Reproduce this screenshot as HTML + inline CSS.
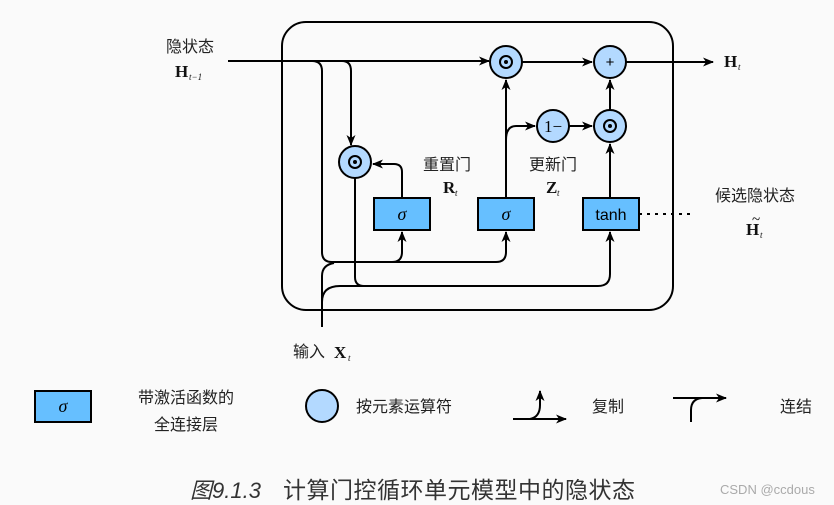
<!DOCTYPE html>
<html><head><meta charset="utf-8"><style>
body{margin:0;background:#fafafa;}
svg{display:block}
.cn{font-family:"Liberation Sans","Noto Sans CJK SC",sans-serif;font-size:16px;fill:#222}
.m{font-family:"Liberation Serif",serif;font-weight:bold;font-size:17px;fill:#111}
.s{font-family:"Liberation Serif",serif;font-style:italic;font-size:9px;fill:#111}
</style></head><body>
<svg width="834" height="505" viewBox="0 0 834 505" xmlns="http://www.w3.org/2000/svg">
<defs><marker id="a" markerWidth="11" markerHeight="9" refX="10" refY="4.5" orient="auto" markerUnits="userSpaceOnUse"><path d="M0,0 L11,4.5 L0,9 L3,4.5 Z" fill="#000"/></marker></defs>
<rect width="834" height="505" fill="#fafafa"/>
<rect x="282" y="22" width="391" height="288" rx="24" fill="none" stroke="#000" stroke-width="2"/>
<g fill="none" stroke="#000" stroke-width="2">
<path d="M228 61 H489" marker-end="url(#a)"/>
<path d="M312 61 Q322 61 322 71 V252 Q322 262 332 262 H392 Q402 262 402 252 V232" marker-end="url(#a)"/>
<path d="M392 262 H496 Q506 262 506 252 V232" marker-end="url(#a)"/>
<path d="M342 61 Q351 61 351 71 V145" marker-end="url(#a)"/>
<path d="M355 178 V277 Q355 286 364 286 H598 Q610 286 610 274 V232" marker-end="url(#a)"/>
<path d="M322 327 V276 Q322 265 334 263"/>
<path d="M322 327 V302 Q322 286 340 286 H364"/>
<path d="M402 198 V172 Q402 164 394 164 H373" marker-end="url(#a)"/>
<path d="M506 198 V80" marker-end="url(#a)"/>
<path d="M506 140 Q506 126 516 126 H535" marker-end="url(#a)"/>
<path d="M569 126 H592" marker-end="url(#a)"/>
<path d="M610 198 V144" marker-end="url(#a)"/>
<path d="M610 110 V80" marker-end="url(#a)"/>
<path d="M522 62 H592" marker-end="url(#a)"/>
<path d="M626 62 H713" marker-end="url(#a)"/>
<path d="M639 214 H691" stroke-dasharray="3,5"/>
</g>
<g stroke="#000" stroke-width="2" fill="#b3d9ff">
<circle cx="506" cy="62" r="16"/><circle cx="610" cy="62" r="16"/><circle cx="553" cy="126" r="16"/><circle cx="610" cy="126" r="16"/><circle cx="355" cy="162" r="16"/>
</g>
<g fill="none" stroke="#000" stroke-width="2"><circle cx="506" cy="62" r="6"/><circle cx="610" cy="126" r="6"/><circle cx="355" cy="162" r="6"/></g>
<g fill="#000"><circle cx="506" cy="62" r="2"/><circle cx="610" cy="126" r="2"/><circle cx="355" cy="162" r="2"/></g>
<text x="610" y="67" text-anchor="middle" font-family="Liberation Sans" font-size="15">+</text>
<text x="553" y="132" text-anchor="middle" font-family="Liberation Serif" font-size="17">1−</text>
<g stroke="#000" stroke-width="2" fill="#66bfff">
<rect x="374" y="198" width="56" height="32"/><rect x="478" y="198" width="56" height="32"/><rect x="583" y="198" width="56" height="32"/>
<rect x="35" y="391" width="56" height="31"/>
</g>
<g font-family="Liberation Serif" font-style="italic" font-size="18" text-anchor="middle"><text x="402" y="220">σ</text><text x="506" y="220">σ</text><text x="63" y="412">σ</text></g>
<text x="611" y="220" text-anchor="middle" font-family="Liberation Sans" font-size="16">tanh</text>
<text class="cn" x="190" y="52" text-anchor="middle">隐状态</text>
<text class="m" x="175" y="77">H</text><text class="s" x="189" y="80">t−1</text>
<text class="cn" x="447" y="170" text-anchor="middle">重置门</text>
<text class="m" x="443" y="193">R</text><text class="s" x="455" y="196">t</text>
<text class="cn" x="553" y="170" text-anchor="middle">更新门</text>
<text class="m" x="546" y="193">Z</text><text class="s" x="557" y="196">t</text>
<text class="cn" x="755" y="201" text-anchor="middle">候选隐状态</text>
<text class="m" x="746" y="235">H</text><text class="s" x="760" y="238">t</text>
<text x="752" y="224" font-family="Liberation Serif" font-size="15">~</text>
<text class="m" x="724" y="67">H</text><text class="s" x="738" y="70">t</text>
<text class="cn" x="293" y="357">输入</text><text class="m" x="334" y="358">X</text><text class="s" x="348" y="361">t</text>
<text class="cn" x="186" y="403" text-anchor="middle">带激活函数的</text>
<text class="cn" x="186" y="430" text-anchor="middle">全连接层</text>
<circle cx="322" cy="406" r="16" fill="#b3d9ff" stroke="#000" stroke-width="2"/>
<text class="cn" x="356" y="412">按元素运算符</text>
<g fill="none" stroke="#000" stroke-width="2">
<path d="M513 419 H566" marker-end="url(#a)"/>
<path d="M530 419 Q540 417 540 405 V391" marker-end="url(#a)"/>
<path d="M673 398 H726" marker-end="url(#a)"/>
<path d="M691 422 V410 Q691 399 702 398"/>
</g>
<text class="cn" x="592" y="412">复制</text>
<text class="cn" x="780" y="412">连结</text>
<text x="190" y="498" font-family="Liberation Sans,'Noto Sans CJK SC',sans-serif" font-style="italic" font-size="22" fill="#333">图9.1.3</text>
<text x="283" y="498" font-family="Liberation Sans,'Noto Sans CJK SC',sans-serif" font-size="23" fill="#333" textLength="352">计算门控循环单元模型中的隐状态</text>
<text x="720" y="494" font-family="Liberation Sans,sans-serif" font-size="13" fill="#aaa">CSDN @ccdous</text>
</svg>
</body></html>
